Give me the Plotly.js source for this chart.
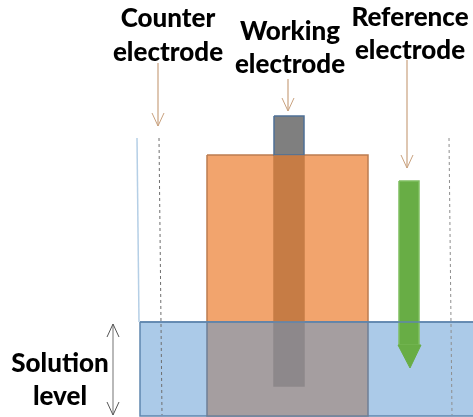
<!DOCTYPE html>
<html><head><meta charset="utf-8">
<script src="https://cdn.plot.ly/plotly-3.0.1.min.js"></script>
<style>html,body{margin:0;padding:0;background:#fff}#chart{filter:blur(0.45px)}</style></head>
<body><div id="chart" style="width:473px;height:417px"></div>
<script>
// Regions of the diagram: [left, right, top, bottom, fill, border]
const cellAboveBox  = [207, 368, 155, 322, '#F2A46D', '#BC7C50'];
const solutionBox   = [140, 480, 322, 416, '#ABCAE8', '#5F86AE'];
const cellBelowBox  = [207, 368, 322, 416, '#A59EA0', '#6F7F95'];
const wireTopBox    = [274, 304, 116, 155, '#7F7F7F', '#4F7096'];
const wireMidBox    = [274, 304, 156, 321, '#C67C45', '#C67C45'];
const wireLowBox    = [274, 304, 323, 386, '#8D888B', '#8D888B'];
const refBodyBox    = [399, 419, 181, 345, '#68AD45', '#7FBF60'];
const refTipX = [398, 421, 410, 398];
const refTipY = [345, 345, 368, 345];

const wallX = [137, 139]; const wallY = [138, 322];
const dashLeftX = [159, 162]; const dashRightX = [449, 452]; const dashY = [138, 415];
const surfaceX = [140, 473]; const surfaceY = [322, 322];

const arrowCounterX = [158, 158]; const arrowCounterY = [63, 126];
const arrowWorkingX = [288, 288]; const arrowWorkingY = [79, 111];
const arrowRefX = [407, 407]; const arrowRefY = [60, 168];
const levelX = [113, 113]; const levelY = [324, 415];

const labels = ['Counter', 'electrode', 'Working', 'electrode', 'Reference', 'electrode', 'Solution', 'level'];
const labelX = [168, 168, 290, 290, 410, 410, 60, 60];
const labelY = [20, 54, 33, 66, 19, 52, 365, 398];

const box = b => ({
  type: 'scatter', mode: 'lines', x: [b[0], b[1], b[1], b[0], b[0]], y: [b[2], b[2], b[3], b[3], b[2]],
  fill: 'toself', fillcolor: b[4], line: {color: b[5], width: 1.5}, hoverinfo: 'skip'
});
const line = (x, y, color, width, dash) => ({
  type: 'scatter', mode: 'lines', x, y, line: {color, width, dash: dash || 'solid'}, hoverinfo: 'skip'
});
// open "V" arrow head at one end of a vertical line
const head = (x, y, dir, color) => line([x - 6, x, x + 6], [y - dir * 13, y, y - dir * 13], color, 1);

const tan = '#C9A27F', grey = '#8A8A8A';
const traces = [
  box(cellAboveBox), box(solutionBox), box(cellBelowBox),
  box(wireTopBox), box(wireMidBox), box(wireLowBox), box(refBodyBox),
  {type: 'scatter', mode: 'lines', x: refTipX, y: refTipY, fill: 'toself', fillcolor: '#68AD45', line: {color: '#68AD45', width: 1}, hoverinfo: 'skip'},
  line(surfaceX, surfaceY, '#5F86AE', 1.5),
  line(wallX, wallY, '#B5CFE6', 1.5),
  line(dashLeftX, dashY, '#6E6E6E', 1, 'dot'),
  line(dashRightX, dashY, '#8E8E8E', 1, 'dot'),
  line(arrowCounterX, arrowCounterY, tan, 1.2), head(arrowCounterX[1], arrowCounterY[1], 1, tan),
  line(arrowWorkingX, arrowWorkingY, tan, 1.2), head(arrowWorkingX[1], arrowWorkingY[1], 1, tan),
  line(arrowRefX, arrowRefY, tan, 1.2), head(arrowRefX[1], arrowRefY[1], 1, tan),
  line(levelX, levelY, grey, 1.2), head(levelX[0], levelY[0], -1, '#555'), head(levelX[1], levelY[1], 1, '#555'),
  {type: 'scatter', mode: 'text', x: labelX, y: labelY, text: labels, textposition: 'middle center',
   textfont: {family: 'Lato, sans-serif', size: 26, color: '#000', weight: 900}, hoverinfo: 'skip', cliponaxis: false}
];
const layout = {
  width: 473, height: 417, margin: {l: 0, r: 0, t: 0, b: 0}, showlegend: false,
  paper_bgcolor: '#fff', plot_bgcolor: '#fff',
  xaxis: {range: [0, 473], visible: false, fixedrange: true},
  yaxis: {range: [417, 0], visible: false, fixedrange: true}
};
Plotly.newPlot('chart', traces, layout, {displayModeBar: false, staticPlot: true});
</script></body></html>
